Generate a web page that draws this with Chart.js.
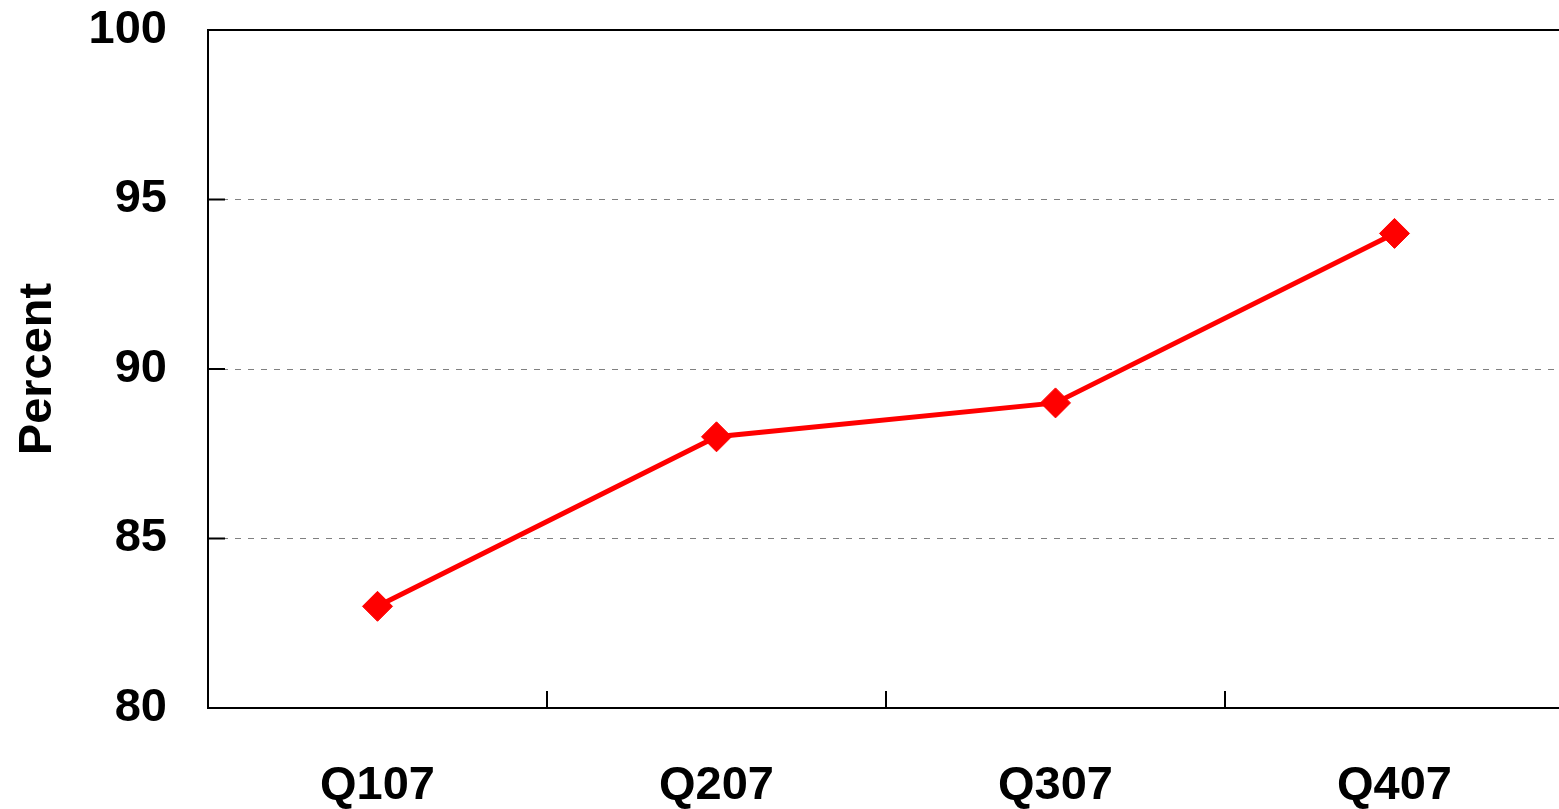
<!DOCTYPE html>
<html>
<head>
<meta charset="utf-8">
<script src="https://cdn.jsdelivr.net/npm/chart.js@4.4.1/dist/chart.umd.min.js"></script>
<style>
  html, body { margin: 0; padding: 0; background: #fff; overflow: hidden; }
  canvas { display: block; }
</style>
</head>
<body>
<canvas id="percentChart" width="1564" height="809"></canvas>
<script>
// data
const quarters = ['Q107', 'Q207', 'Q307', 'Q407'];
const percentValues = [83, 88, 89, 94];
const yMin = 80;
const yMax = 100;
const yStep = 5;

const labelFont = { family: '"Liberation Sans", Arial, sans-serif', size: 47, weight: 'bold' };

// short tick marks pointing into the plot, plus the top frame line
const innerTicks = {
    id: 'innerTicks',
    beforeDatasetsDraw(chart) {
        const { ctx, chartArea, scales } = chart;
        const len = 17;
        ctx.save();
        ctx.strokeStyle = '#000';
        ctx.lineWidth = 2;
        ctx.beginPath();
        // top frame
        ctx.moveTo(chartArea.left, chartArea.top);
        ctx.lineTo(chartArea.right, chartArea.top);
        // y ticks
        scales.y.ticks.forEach(t => {
            const py = scales.y.getPixelForValue(t.value);
            ctx.moveTo(chartArea.left, py);
            ctx.lineTo(chartArea.left + len, py);
        });
        // x ticks between categories
        for (let i = 0; i < quarters.length - 1; i++) {
            const px = (scales.x.getPixelForTick(i) + scales.x.getPixelForTick(i + 1)) / 2;
            ctx.moveTo(px, chartArea.bottom);
            ctx.lineTo(px, chartArea.bottom - len);
        }
        ctx.stroke();
        ctx.restore();
    }
};

const ctx = document.getElementById('percentChart').getContext('2d');
new Chart(ctx, {
    type: 'line',
    data: {
        labels: quarters,
        datasets: [{
            label: 'Percent',
            data: percentValues,
            borderColor: '#ff0000',
            backgroundColor: '#ff0000',
            borderWidth: 5,
            pointStyle: 'rectRot',
            pointRadius: 15,
            pointHoverRadius: 15,
            pointBorderWidth: 1,
            tension: 0
        }]
    },
    options: {
        responsive: false,
        animation: false,
        layout: { autoPadding: false, padding: { top: 30, right: 0, left: 0, bottom: 0 } },
        plugins: {
            legend: { display: false },
            tooltip: { enabled: false }
        },
        scales: {
            x: {
                offset: true,
                grid: { display: false, drawTicks: false },
                border: { display: true, color: '#000', width: 2 },
                ticks: { color: '#000', font: labelFont, padding: 50, maxRotation: 0 },
                afterFit(scale) {
                    scale.height = 101;
                    scale.paddingLeft = 0;
                    scale.paddingRight = 0;
                }
            },
            y: {
                min: yMin,
                max: yMax,
                grid: {
                    drawTicks: false,
                    lineWidth: 1,
                    color: c => (c.tick && (c.tick.value === yMin || c.tick.value === yMax)) ? 'rgba(0,0,0,0)' : '#808080'
                },
                border: { display: true, color: '#000', width: 2, dash: [6, 7] },
                ticks: { stepSize: yStep, color: '#000', font: labelFont, padding: 41 },
                title: {
                    display: true,
                    text: 'Percent',
                    color: '#000',
                    font: labelFont,
                    padding: { top: 10, bottom: 0 }
                },
                afterFit(scale) {
                    scale.width = 208;
                    scale.paddingTop = 0;
                    scale.paddingBottom = 0;
                }
            }
        }
    },
    plugins: [innerTicks]
});
</script>
</body>
</html>
